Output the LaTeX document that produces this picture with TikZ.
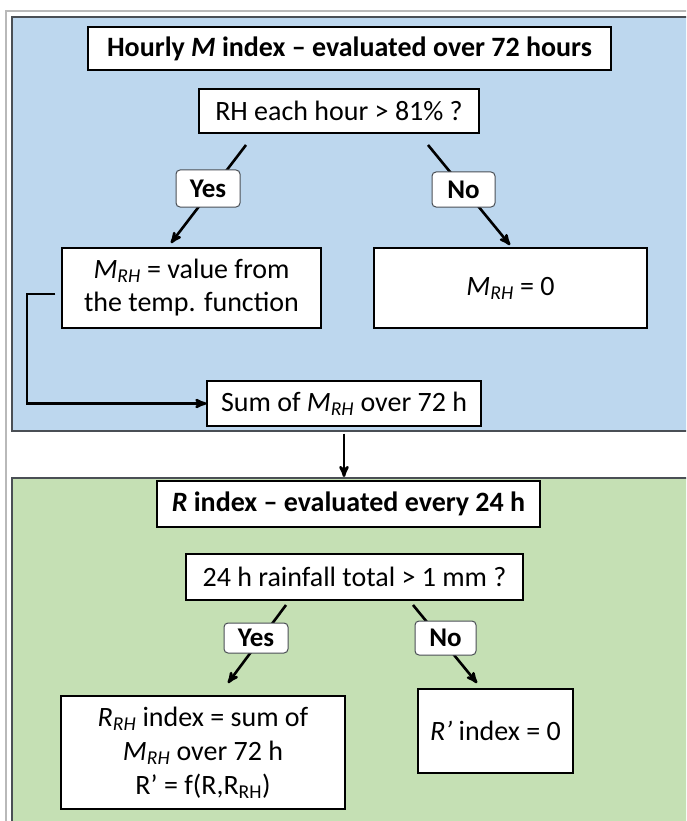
\documentclass[tikz,border=0pt]{standalone}
\usepackage{fontspec}
\setmainfont{Carlito}
\usetikzlibrary{arrows,positioning}
\definecolor{hourlyblue}{HTML}{BDD7EE}
\definecolor{dailygreen}{HTML}{C5E0B4}
\definecolor{panelgray}{HTML}{4A4F55}
\newcommand{\Mrh}{\textit{M}\textsubscript{\textit{RH}}}
\newcommand{\Rrh}{\textit{R}\textsubscript{\textit{RH}}}
\tikzset{
    box/.style={
           rectangle,
           draw=black,
           fill=white,
           line width=1.2pt,
           inner sep=2pt,
           align=center,
           font=\fontsize{28}{33}\selectfont,
           },
    answer/.style={
           rectangle,
           rounded corners=4pt,
           draw=panelgray,
           fill=white,
           line width=1pt,
           inner sep=0pt,
           minimum width=64pt,
           font=\fontsize{27}{30}\selectfont\bfseries,
           },
}

\begin{document}
\begin{tikzpicture}[
  x=1pt,y=1pt,
  >=stealth',
  link/.style={->,line width=2.6pt},
  hourly/.style={fill=hourlyblue,draw=panelgray,line width=1.6pt},
  daily/.style={fill=dailygreen,draw=panelgray,line width=1.6pt}]
\useasboundingbox (0,0) rectangle (686,-821);
\clip (0,0) rectangle (686,-821);
% frame and panels
\draw[gray!55,line width=2.4pt] (6,-830) -- (6,-11) -- (700,-11);
\draw[hourly] (12,-17) rectangle (700,-431);
\draw[daily] (12,-478) rectangle (700,-830);

% hourly M index
\node[box,font=\fontsize{28}{33}\selectfont\bfseries,minimum width=523pt,minimum height=43pt](hourlytitle) at (349.5,-48.5){Hourly \textit{M} index -- evaluated over 72 hours};
\node[box,below of=hourlytitle,node distance=62.5pt,xshift=-10.5pt,minimum width=280pt,minimum height=44pt](rhcheck){RH each hour > 81\% ?};
\node[box,below of=rhcheck,node distance=177pt,xshift=-147.5pt,minimum width=259pt,minimum height=80pt](mvalue){\Mrh{} = value from\\the temp. function};
\node[box,below of=rhcheck,node distance=177pt,xshift=171.5pt,minimum width=273pt,minimum height=80pt](mzero){\Mrh{} = 0};
\node[box,below of=rhcheck,node distance=292.5pt,xshift=5pt,minimum width=274pt,minimum height=45pt](msum){Sum of \Mrh{} over 72 h};

% R index
\node[box,font=\fontsize{28}{33}\selectfont\bfseries,below of=msum,node distance=100.5pt,xshift=4.5pt,minimum width=383pt,minimum height=46pt](rtitle){\textit{R} index -- evaluated every 24 h};
\node[box,below of=rtitle,node distance=73pt,xshift=6pt,minimum width=337pt,minimum height=46pt](raincheck){24 h rainfall total > 1 mm ?};
\node[box,below of=raincheck,node distance=175.5pt,xshift=-151.5pt,minimum width=284pt,minimum height=113pt,font=\fontsize{28}{34}\selectfont](rrh){\Rrh{} index = sum of\\\Mrh{} over 72 h\\R’ = f(R,R\textsubscript{RH})};
\node[box,below of=raincheck,node distance=154pt,xshift=141pt,minimum width=155pt,minimum height=84pt](rzero){\textit{R’} index = 0};

% connectors
\coordinate (yesmtop) at (246,-145);
\coordinate (yesmtip) at (171,-243);
\coordinate (nomtop) at (428,-145);
\coordinate (nomtip) at (510,-245);
\coordinate (yesrtop) at (286,-605);
\coordinate (yesrtip) at (228,-683);
\coordinate (nortop) at (413,-605);
\coordinate (nortip) at (477,-683);
\coordinate (loopbend) at (27,-294);
\coordinate (greentop) at (344,-477);

\draw[link] (yesmtop) -- (yesmtip);
\draw[link] (nomtop) -- (nomtip);
\draw[link] (yesrtop) -- (yesrtip);
\draw[link] (nortop) -- (nortip);
\draw[link] ([xshift=-6pt,yshift=-6pt]mvalue.west) -- (loopbend) |- (msum.west);
\draw[link,shorten <=7pt] (msum.south) -- (greentop);

\node[answer,below of=rhcheck,node distance=77.5pt,xshift=-131pt,minimum height=37pt](yesm){Yes};
\node[answer,below of=rhcheck,node distance=78.5pt,xshift=124.5pt,minimum width=63pt,minimum height=35pt](nom){No};
\node[answer,below of=raincheck,node distance=61pt,xshift=-98.5pt,minimum height=30pt](yesr){Yes};
\node[answer,below of=raincheck,node distance=61pt,xshift=91pt,minimum width=61pt,minimum height=34pt](nor){No};
\end{tikzpicture}
\end{document}
